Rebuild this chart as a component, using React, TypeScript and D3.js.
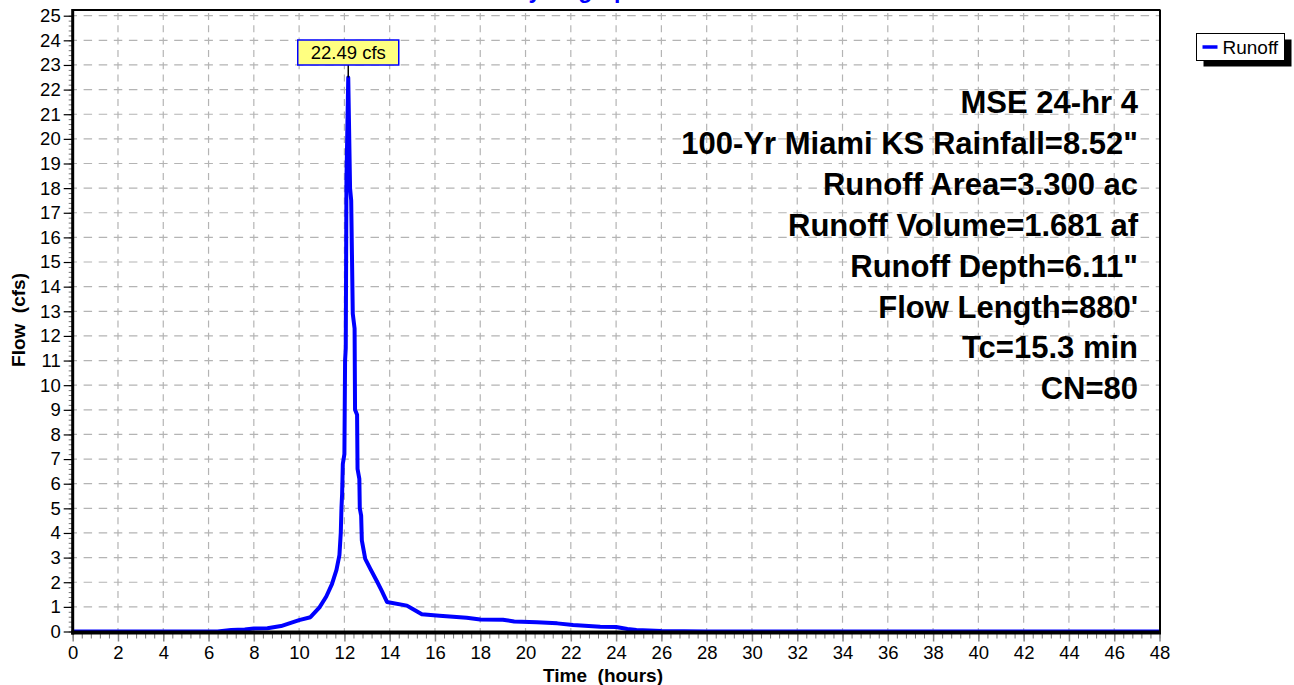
import React, { useEffect, useRef } from 'react';
import * as d3 from 'd3';

// hydrograph samples
const hours = [0, 6.4, 7.0, 7.6, 8.0, 8.6, 9.2, 9.6, 10.0, 10.5, 10.9, 11.2, 11.45, 11.65, 11.78, 11.84, 11.87, 11.9, 11.93, 12.0,
    12.03, 12.06, 12.09, 12.17, 12.25, 12.3, 12.37, 12.45, 12.47, 12.56, 12.58, 12.66, 12.68, 12.74, 12.77, 12.92, 13.14, 13.43, 13.65, 13.88,
    14.76, 15.0, 15.42, 16.2, 17.4, 18.0, 19.0, 19.5, 20.5, 21.4, 22.1, 23.3, 24.0, 24.5, 24.9, 26.0, 28.0, 48.0];
const flow = [0, 0, 0.06, 0.08, 0.12, 0.13, 0.22, 0.34, 0.46, 0.58, 0.98, 1.42, 1.92, 2.5, 3.1, 4.0, 5.0, 5.6, 6.8, 7.2,
    11.0, 11.5, 18.3, 22.49, 18.0, 17.5, 12.9, 12.3, 9.0, 8.8, 6.6, 6.2, 5.0, 4.7, 3.7, 2.95, 2.55, 2.05, 1.65, 1.2,
    1.05, 0.92, 0.7, 0.64, 0.56, 0.49, 0.48, 0.41, 0.38, 0.33, 0.26, 0.19, 0.18, 0.1, 0.06, 0.02, 0, 0];

const xTicks = d3.range(0, 49, 2);
const yTicks = d3.range(0, 26, 1);
const xMinorTicks = d3.range(0, 48.01, 0.4);
const yMinorTicks = d3.range(0, 25.01, 0.2);

const infoLines = [
    'MSE 24-hr 4',
    '100-Yr Miami KS Rainfall=8.52"',
    'Runoff Area=3.300 ac',
    'Runoff Volume=1.681 af',
    'Runoff Depth=6.11"',
    "Flow Length=880'",
    'Tc=15.3 min',
    'CN=80',
];

const chartTitle = 'Hydrograph';
const seriesName = 'Runoff';
const peakLabel = '22.49 cfs';
const xLabel = 'Time  (hours)';
const yLabel = 'Flow  (cfs)';

const FONT = 'Arial, "Liberation Sans", sans-serif';

const Hydrograph: React.FC = () => {
    const svgRef = useRef<SVGSVGElement>(null);

    useEffect(() => {
        if (!svgRef.current) return;
        const svg = d3.select(svgRef.current);
        svg.selectAll('*').remove();

        const left = 72.7, right = 1159.5, bottom = 631.5, top = 10;
        const xScale = d3.scaleLinear().domain([0, 48]).range([left, right]);
        const yScale = d3.scaleLinear().domain([0, 25]).range([bottom, 15.7]);

        const gridColor = '#b4b4b4';

        // dashed grid
        svg.append('g')
            .selectAll('line')
            .data(xTicks.filter(t => t > 0 && t < 48))
            .join('line')
            .attr('x1', d => xScale(d)).attr('x2', d => xScale(d))
            .attr('y1', bottom).attr('y2', top)
            .attr('stroke', gridColor).attr('stroke-width', 1.2)
            .attr('stroke-dasharray', '7 5.3')
            .attr('stroke-dashoffset', 3.5);

        svg.append('g')
            .selectAll('line')
            .data(yTicks.filter(t => t > 0))
            .join('line')
            .attr('x1', left).attr('x2', right)
            .attr('y1', d => yScale(d)).attr('y2', d => yScale(d))
            .attr('stroke', gridColor).attr('stroke-width', 1.2)
            .attr('stroke-dasharray', '8.5 6.6')
            .attr('stroke-dashoffset', 4.2);

        // info block (under the curve, over the grid)
        svg.append('g')
            .selectAll('text')
            .data(infoLines)
            .join('text')
            .attr('x', 1138)
            .attr('y', (_, i) => 113 + i * 40.9)
            .attr('text-anchor', 'end')
            .attr('font-family', FONT).attr('font-size', 31).attr('font-weight', 'bold')
            .attr('fill', '#000')
            .text(d => d);

        // runoff line
        const pts = hours.map((h, i) => [h, flow[i]] as [number, number]);
        svg.append('path')
            .datum(pts)
            .attr('fill', 'none')
            .attr('stroke', '#0000ff')
            .attr('stroke-width', 4)
            .attr('stroke-linejoin', 'round')
            .attr('d', d3.line<[number, number]>().x(d => xScale(d[0])).y(d => yScale(d[1])));

        // minor ticks
        const yMinor = svg.append('g').attr('transform', `translate(${left},0)`)
            .call(d3.axisLeft(yScale).tickValues(yMinorTicks).tickSize(4).tickFormat(() => ''));
        yMinor.select('.domain').remove();
        yMinor.selectAll('line').attr('stroke', '#777');

        const xMinor = svg.append('g').attr('transform', `translate(0,${bottom})`)
            .call(d3.axisBottom(xScale).tickValues(xMinorTicks).tickSize(7).tickFormat(() => ''));
        xMinor.select('.domain').remove();
        xMinor.selectAll('line').attr('stroke', '#777');

        // major axes
        const yAxis = svg.append('g').attr('transform', `translate(${left},0)`)
            .call(d3.axisLeft(yScale).tickValues(yTicks).tickSize(9).tickPadding(3).tickFormat(d3.format('d')));
        yAxis.select('.domain').remove();
        yAxis.selectAll('line').attr('stroke', '#000').attr('stroke-width', 1.2);
        yAxis.selectAll('text').attr('font-family', FONT).attr('font-size', 18.5).attr('fill', '#000');

        const xAxis = svg.append('g').attr('transform', `translate(0,${bottom})`)
            .call(d3.axisBottom(xScale).tickValues(xTicks).tickSize(10).tickPadding(4).tickFormat(d3.format('d')));
        xAxis.select('.domain').remove();
        xAxis.selectAll('line').attr('stroke', '#888').attr('stroke-width', 1.5);
        xAxis.selectAll('text').attr('font-family', FONT).attr('font-size', 18.5).attr('fill', '#000');

        // frame
        svg.append('line').attr('x1', left).attr('x2', right + 1).attr('y1', top).attr('y2', top)
            .attr('stroke', '#000').attr('stroke-width', 2);
        svg.append('line').attr('x1', right + 0.5).attr('x2', right + 0.5).attr('y1', top).attr('y2', bottom + 2)
            .attr('stroke', '#000').attr('stroke-width', 2);
        svg.append('line').attr('x1', left).attr('x2', left).attr('y1', top - 1).attr('y2', bottom + 3)
            .attr('stroke', '#000').attr('stroke-width', 3);
        svg.append('line').attr('x1', left - 1.5).attr('x2', right + 1.5).attr('y1', bottom + 1).attr('y2', bottom + 1)
            .attr('stroke', '#000').attr('stroke-width', 4);

        // axis titles
        svg.append('text')
            .attr('x', 603)
            .attr('y', 682)
            .attr('text-anchor', 'middle')
            .attr('font-family', FONT).attr('font-size', 19).attr('font-weight', 'bold')
            .style('white-space', 'pre')
            .text(xLabel);

        svg.append('text')
            .attr('transform', `translate(25,${320}) rotate(-90)`)
            .attr('text-anchor', 'middle')
            .attr('font-family', FONT).attr('font-size', 19).attr('font-weight', 'bold')
            .style('white-space', 'pre')
            .text(yLabel);

        // title, mostly cut off at the top edge as in the source
        svg.append('text')
            .attr('x', 577)
            .attr('y', -2)
            .attr('text-anchor', 'middle')
            .attr('font-family', FONT).attr('font-size', 23).attr('font-weight', 'bold')
            .attr('fill', '#0000ff')
            .text(chartTitle);

        // peak callout
        const peakIdx = d3.maxIndex(flow);
        const px = xScale(hours[peakIdx]);
        const py = yScale(flow[peakIdx]);
        const boxW = 101, boxH = 25, boxY = 40;
        svg.append('line')
            .attr('x1', px).attr('x2', px)
            .attr('y1', boxY + boxH).attr('y2', py)
            .attr('stroke', '#000').attr('stroke-width', 1.5);
        svg.append('rect')
            .attr('x', px - boxW / 2).attr('y', boxY)
            .attr('width', boxW).attr('height', boxH)
            .attr('fill', '#ffff80').attr('stroke', '#0000ff').attr('stroke-width', 1.5);
        svg.append('text')
            .attr('x', px).attr('y', boxY + 19)
            .attr('text-anchor', 'middle')
            .attr('font-family', FONT).attr('font-size', 18.5)
            .text(peakLabel);

        // legend
        const lg = svg.append('g').attr('transform', 'translate(1196.5,33.5)');
        lg.append('rect').attr('x', 7).attr('y', 6).attr('width', 88).attr('height', 27).attr('fill', '#000');
        lg.append('rect').attr('x', 0).attr('y', 0).attr('width', 88).attr('height', 27)
            .attr('fill', '#fff').attr('stroke', '#000').attr('stroke-width', 1);
        lg.append('line').attr('x1', 6).attr('x2', 21).attr('y1', 13.5).attr('y2', 13.5)
            .attr('stroke', '#0000ff').attr('stroke-width', 3.5);
        lg.append('text').attr('x', 26).attr('y', 20)
            .attr('font-family', FONT).attr('font-size', 19)
            .text(seriesName);
    }, []);

    return <svg ref={svgRef} width={1294} height={685} style={{ display: 'block' }} />;
};

export default function App() {
    return (
        <div style={{ position: 'absolute', left: 0, top: 0, width: 1294, height: 685, background: '#fff' }}>
            <Hydrograph />
        </div>
    );
}
